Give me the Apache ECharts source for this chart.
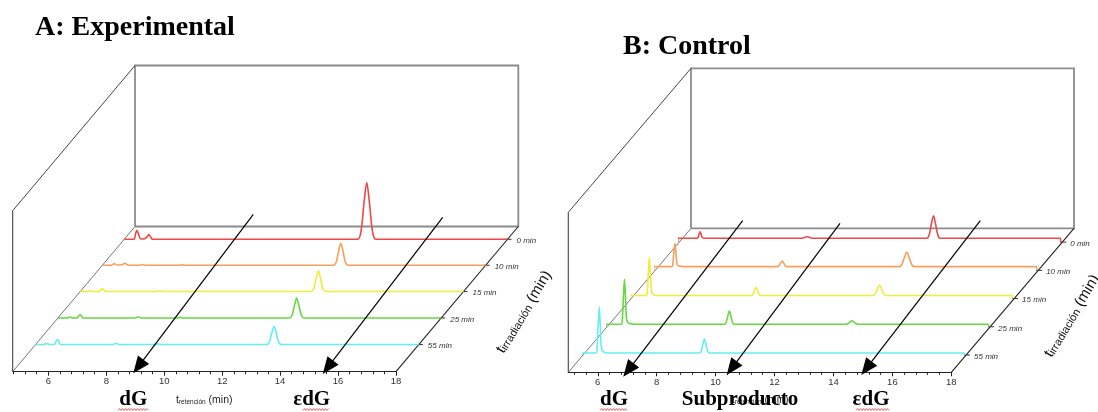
<!DOCTYPE html>
<html><head><meta charset="utf-8">
<script src="https://cdn.jsdelivr.net/npm/echarts@6/dist/echarts.min.js"></script>
<style>html,body{margin:0;padding:0;background:#fff}#c{width:1098px;height:412px}</style>
</head><body><div id="c"></div>
<script>
// ---------------- DATA ----------------
const irradiationLabels = ['0 min', '10 min', '15 min', '25 min', '55 min']; // back -> front
const retentionTicks = [6, 8, 10, 12, 14, 16, 18];
const panelTitles = ['A: Experimental', 'B: Control'];
const peakLabelsA = ['dG', 'εdG'];
const peakLabelsB = ['dG', 'Subproducto', 'εdG'];
const retentionTitle = ['t', 'retención', ' (min)'];
const irradiationTitle = ['t', 'irradiación', ' (min)'];

// Panel A (experimental): [retention time (min), signal]
const expA_0min = [[4.77,0],[5.1,0],[5.16,5.4],[5.21,9],[5.26,5.4],[5.33,0.6],[5.45,0.3],[5.57,2.8],[5.62,4.7],[5.67,2.8],[5.75,0],[12.82,0],[12.94,7.7],[13.04,34.6],[13.14,56.7],[13.24,34.6],[13.34,7.7],[13.46,0],[18,0]];
const expA_10min = [[4.77,0],[5.08,0],[5.14,1],[5.18,1.7],[5.22,1],[5.3,0.3],[5.4,0.3],[5.5,1.2],[5.55,2],[5.6,1.2],[5.68,0],[6.06,0],[6.16,0.7],[6.26,0],[7.41,0],[7.51,0.5],[7.61,0],[12.74,0],[12.84,3],[12.92,13.6],[13.0,22.3],[13.08,13.6],[13.16,3],[13.26,0],[18,0]];
const expA_15min = [[4.77,0],[5.01,0],[5.11,0.7],[5.21,0],[5.43,0],[5.48,1.8],[5.53,3],[5.58,1.8],[5.64,0],[7.42,0],[7.52,0.7],[7.62,0],[8.81,0],[8.91,0.5],[9.01,0],[12.73,0],[12.83,2.8],[12.91,12.6],[12.99,20.7],[13.07,12.6],[13.15,2.8],[13.25,0],[18,0]];
const expA_25min = [[4.77,0],[5.08,0],[5.18,1],[5.28,0],[5.43,0],[5.48,2],[5.53,3.3],[5.58,2],[5.64,0],[7.44,0],[7.54,1.2],[7.64,0],[8.88,0],[8.98,0.7],[9.08,0],[12.75,0],[12.85,2.7],[12.93,12.2],[13.01,20],[13.09,12.2],[13.17,2.7],[13.27,0],[18,0]];
const expA_55min = [[4.77,0],[5.05,0],[5.15,1],[5.25,0],[5.42,0],[5.47,3],[5.52,5],[5.57,3],[5.63,0],[7.45,0],[7.55,1.3],[7.65,0],[8.9,0],[9.0,0.7],[9.1,0],[12.74,0],[12.84,2.5],[12.92,11.2],[13.0,18.3],[13.08,11.2],[13.16,2.5],[13.26,0],[18,0]];

// Panel B (control)
const ctrlB_0min = [[4.95,0],[4.96,3.8],[5.605,3.8],[5.64,4.7],[5.675,7.8],[5.71,10.4],[5.745,7.8],[5.78,4.7],[5.83,3.9],[9.13,3.8],[9.27,4.8],[9.34,5.4],[9.41,4.8],[9.55,3.8],[13.405,3.8],[13.48,6.8],[13.555,17.6],[13.63,26.4],[13.705,17.6],[13.78,6.8],[13.855,3.8],[17.94,3.8],[17.95,0]];
const ctrlB_10min = [[4.95,0],[4.96,3.7],[5.565,3.7],[5.6,6.9],[5.635,18],[5.67,27.1],[5.705,18],[5.74,6.9],[5.78,4.8],[5.87,4],[6.02,3.7],[9.145,3.7],[9.2,4.5],[9.255,7.2],[9.31,9.4],[9.365,7.2],[9.42,4.5],[9.475,3.7],[13.285,3.7],[13.37,5.6],[13.455,12.5],[13.54,18.1],[13.625,12.5],[13.71,5.6],[13.795,3.7],[17.94,3.7],[17.95,0]];
const ctrlB_15min = [[4.95,0],[4.96,3],[5.515,3],[5.55,8.1],[5.585,26.1],[5.62,40.9],[5.655,26.1],[5.69,8.1],[5.73,4.6],[5.82,3.4],[5.97,3],[9.075,3],[9.13,4.1],[9.185,8.1],[9.24,11.3],[9.295,8.1],[9.35,4.1],[9.405,3],[13.205,3],[13.28,4.4],[13.355,9.5],[13.43,13.6],[13.505,9.5],[13.58,4.4],[13.655,3],[17.94,3],[17.95,0]];
const ctrlB_25min = [[4.95,0],[4.96,2.5],[5.485,2.5],[5.52,8.6],[5.555,30],[5.59,47.5],[5.625,30],[5.66,8.6],[5.7,4.5],[5.79,3],[5.94,2.5],[8.985,2.5],[9.04,4.3],[9.095,10.6],[9.15,15.8],[9.205,10.6],[9.26,4.3],[9.315,2.5],[13.1,2.5],[13.17,3],[13.24,4.7],[13.31,6.1],[13.38,4.7],[13.45,3],[13.52,2.5],[17.94,2.5],[17.95,0]];
const ctrlB_55min = [[4.95,0],[4.96,2],[5.445,2],[5.48,8.2],[5.515,30.1],[5.55,48],[5.585,30.1],[5.62,8.2],[5.66,4],[5.75,2.6],[5.9,2],[8.955,2],[9.01,3.9],[9.065,10.5],[9.12,16],[9.175,10.5],[9.23,3.9],[9.285,2],[17.94,2],[17.95,0]];

// ---------------- LAYOUT / STYLE ----------------
const traceColors = ['#f04848', '#f5a060', '#f0ec3a', '#66d840', '#66eef0'];
const SANS = '"Liberation Sans", Arial, sans-serif';
const SERIF = '"Liberation Serif", "Times New Roman", serif';
const Y_MIN = -10, Y_MAX = 100;

const panels = [
  { title: panelTitles[0], titleX: 35, titleY: 28,
    ox: 12.7, oy: 371.7, w: 383.3, tMin: 4.77, tMax: 18, ddx: 122.3, ddy: -145.2, h: 161,
    fracs: [0.912, 0.733, 0.552, 0.37, 0.187], labelDx: 9,
    traces: [expA_0min, expA_10min, expA_15min, expA_25min, expA_55min],
    axisTitleX: 176, depthTitle: [524, 312],
    arrows: [[253.3, 214.3, 133.3, 373.3], [442.7, 217.3, 322.7, 374]],
    labels: [{ text: peakLabelsA[0], x: 133.3, ul: [118, 148] }, { text: peakLabelsA[1], x: 311.7, ul: [303, 329] }] },
  { title: panelTitles[1], titleX: 623, titleY: 47,
    ox: 568.3, oy: 372.3, w: 383, tMin: 5, tMax: 18, ddx: 122.7, ddy: -144, h: 160,
    fracs: [0.904, 0.708, 0.512, 0.316, 0.12], labelDx: 8,
    traces: [ctrlB_0min, ctrlB_10min, ctrlB_15min, ctrlB_25min, ctrlB_55min],
    axisTitleX: 732, depthTitle: [1072, 316],
    arrows: [[742.7, 220.7, 623.3, 376.7], [840, 223.3, 726.7, 375], [980.3, 220.7, 861.3, 375]],
    labels: [{ text: peakLabelsB[0], x: 614, ul: [600, 628] }, { text: peakLabelsB[1], x: 740 }, { text: peakLabelsB[2], x: 871, ul: [856, 890] }] }
];

const grids = [], xAxes = [], yAxes = [], series = [], els = [];

function seg(x1, y1, x2, y2, stroke, lw, z) {
  return { type: 'line', silent: true, z: z == null ? 1 : z, shape: { x1, y1, x2, y2 }, style: { stroke, lineWidth: lw } };
}
function arrow(sx, sy, tx, ty) {
  const dx = tx - sx, dy = ty - sy, L = Math.hypot(dx, dy), ux = dx / L, uy = dy / L, nx = -uy, ny = ux;
  const hl = 17, hw = 7, bx = tx - ux * hl, by = ty - uy * hl;
  els.push(seg(sx, sy, bx + ux * 3, by + uy * 3, '#000', 1.2, 100));
  els.push({ type: 'polygon', silent: true, z: 101, shape: { points: [[tx, ty], [bx + nx * hw, by + ny * hw], [bx - nx * hw, by - ny * hw]] }, style: { fill: '#000' } });
}
function squiggle(x1, x2, y) {
  const pts = []; let i = 0;
  for (let x = x1; x <= x2; x += 1.5, i++) pts.push([x, y + (i % 2 ? -0.9 : 0.9)]);
  els.push({ type: 'polyline', silent: true, z: 100, shape: { points: pts }, style: { stroke: '#e03030', lineWidth: 0.8, fill: null } });
}

panels.forEach((P) => {
  const majors = retentionTicks.filter(v => v >= P.tMin && v <= P.tMax);
  const minors = [];
  for (let v = 4.8; v <= P.tMax + 1e-9; v += 0.4) { const r = Math.round(v * 10) / 10; if (r >= P.tMin && Math.abs(r / 2 - Math.round(r / 2)) > 1e-6) minors.push(r); }

  // front (retention-time) axis grid
  const gi = grids.length;
  grids.push({ left: P.ox, top: P.oy - 40, width: P.w, height: 40, outerBoundsMode: 'none' });
  xAxes.push({ gridIndex: gi, type: 'value', min: P.tMin, max: P.tMax, position: 'bottom',
    axisLine: { show: true, lineStyle: { color: '#222', width: 1.1 } },
    axisTick: { show: true, customValues: majors, length: 4, lineStyle: { color: '#222' } },
    axisLabel: { show: true, customValues: majors, fontSize: 9.5, color: '#333', margin: 5, fontFamily: SANS },
    splitLine: { show: false } });
  xAxes.push({ gridIndex: gi, type: 'value', min: P.tMin, max: P.tMax, position: 'bottom',
    axisLine: { show: false }, axisTick: { show: true, customValues: minors, length: 2.5, lineStyle: { color: '#222' } },
    axisLabel: { show: false }, splitLine: { show: false } });
  yAxes.push({ gridIndex: gi, type: 'value', min: 0, max: 1, show: false });

  // one grid per chromatogram, shifted along the depth direction
  P.traces.forEach((data, k) => {
    const f = P.fracs[k];
    const base = P.oy + f * P.ddy, left = P.ox + f * P.ddx;
    const g = grids.length;
    grids.push({ left: left, top: base - Y_MAX, width: P.w, height: Y_MAX - Y_MIN, outerBoundsMode: 'none' });
    const xi = xAxes.length, yi = yAxes.length;
    xAxes.push({ gridIndex: g, type: 'value', min: P.tMin, max: P.tMax, show: false });
    yAxes.push({ gridIndex: g, type: 'value', min: Y_MIN, max: Y_MAX, show: false });
    series.push({ type: 'line', name: irradiationLabels[k], xAxisIndex: xi, yAxisIndex: yi, data: data,
      showSymbol: false, smooth: 0.3, clip: false, silent: true, z: 5 + k,
      lineStyle: { color: traceColors[k], width: 1.6 } });
    // depth-axis tick + label
    const ax = P.ox + P.w + f * P.ddx, ay = base;
    els.push(seg(ax - 2, ay, ax + 4, ay, '#333', 1, 3));
    els.push({ type: 'text', silent: true, z: 3, style: { text: irradiationLabels[k], x: ax + P.labelDx, y: ay + 1.5,
      font: 'italic 8px ' + SANS, fill: '#333', align: 'left', verticalAlign: 'middle', textAlign: 'left', textVerticalAlign: 'middle' } });
  });

  // box frame
  const bx = P.ox + P.ddx, by = P.oy + P.ddy, H = P.h;
  els.push({ type: 'polyline', silent: true, z: 1, shape: { points: [[bx, by], [bx, by - H], [bx + P.w, by - H], [bx + P.w, by], [bx, by]] }, style: { stroke: '#8c8c8c', lineWidth: 1.8, fill: null } });
  els.push(seg(P.ox, P.oy, P.ox, P.oy - H, '#444', 1.1, 1));
  els.push(seg(P.ox, P.oy - H, bx, by - H, '#444', 1, 1));
  els.push(seg(P.ox, P.oy, bx, by, '#666', 0.9, 1));
  els.push(seg(P.ox + P.w, P.oy, bx + P.w, by, '#222', 1.1, 1));

  // axis titles
  els.push({ type: 'text', silent: true, z: 3, style: { text: '{t|' + retentionTitle[0] + '}{s|' + retentionTitle[1] + '}{m|' + retentionTitle[2] + '}',
    x: P.axisTitleX, y: 400, align: 'left', verticalAlign: 'middle', textAlign: 'left', textVerticalAlign: 'middle',
    rich: { t: { fontSize: 10.5, fontFamily: SANS, fill: '#222', verticalAlign: 'bottom' },
            s: { fontSize: 6.5, fontFamily: SANS, fill: '#222', verticalAlign: 'bottom' },
            m: { fontSize: 10.5, fontFamily: SANS, fill: '#222', verticalAlign: 'bottom' } } } });
  els.push({ type: 'text', silent: true, z: 3, x: P.depthTitle[0], y: P.depthTitle[1], rotation: 59 * Math.PI / 180,
    style: { text: '{t|' + irradiationTitle[0] + '}{s|' + irradiationTitle[1] + '}{m|' + irradiationTitle[2] + '}',
      x: 0, y: 0, align: 'center', verticalAlign: 'middle', textAlign: 'center', textVerticalAlign: 'middle',
      rich: { t: { fontSize: 15, fontFamily: SANS, fill: '#111', verticalAlign: 'bottom' },
              s: { fontSize: 11, fontFamily: SANS, fill: '#111', verticalAlign: 'bottom' },
              m: { fontSize: 15, fontFamily: SANS, fill: '#111', verticalAlign: 'bottom' } } } });

  // title
  els.push({ type: 'text', silent: true, z: 3, style: { text: P.title, x: P.titleX, y: P.titleY, font: 'bold 28px ' + SERIF,
    fill: '#000', align: 'left', verticalAlign: 'middle', textAlign: 'left', textVerticalAlign: 'middle' } });

  // annotation arrows + peak labels
  P.arrows.forEach(a => arrow(a[0], a[1], a[2], a[3]));
  P.labels.forEach(L => {
    els.push({ type: 'text', silent: true, z: 102, style: { text: L.text, x: L.x, y: 400, font: 'bold 21px ' + SERIF,
      fill: '#000', align: 'center', verticalAlign: 'middle', textAlign: 'center', textVerticalAlign: 'middle' } });
    if (L.ul) squiggle(L.ul[0], L.ul[1], 409.5);
  });
});

const chart = echarts.init(document.getElementById('c'), null, { renderer: 'canvas', width: 1098, height: 412 });
chart.setOption({
  animation: false,
  backgroundColor: '#fff',
  grid: grids, xAxis: xAxes, yAxis: yAxes, series: series,
  graphic: { elements: els }
});
</script></body></html>
